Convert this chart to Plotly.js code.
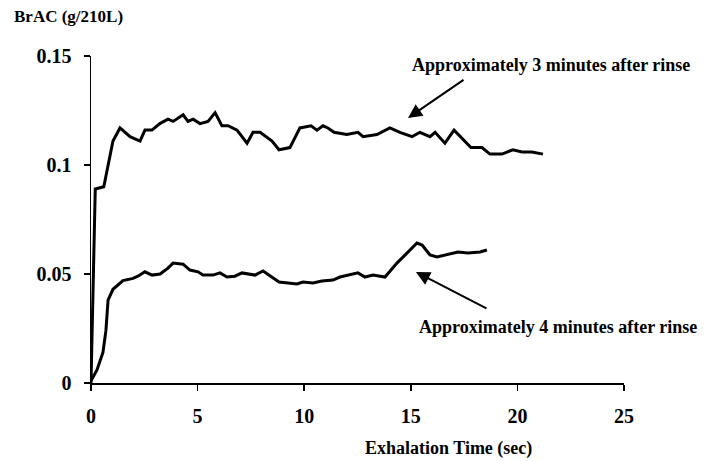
<!DOCTYPE html>
<html>
<head>
<meta charset="utf-8">
<script src="https://cdn.plot.ly/plotly-3.0.1.min.js"></script>
<style>html,body{margin:0;padding:0;background:#fff;}#chart{width:708px;height:461px;}</style>
</head>
<body>
<div id="chart"></div>
<script>
// Approximately 3 minutes after rinse
var time3 = [0, 0.2, 0.6, 0.89, 1.03, 1.36, 1.83, 2.3, 2.53, 2.86, 3.23, 3.61, 3.85, 4.32, 4.55, 4.79, 5.11, 5.49, 5.82, 6.14, 6.43, 6.85, 7.32, 7.6, 7.93, 8.49, 8.82, 9.33, 9.8, 10.32, 10.6, 10.88, 11.11, 11.4, 12.0, 12.52, 12.76, 13.41, 14.02, 14.49, 15.06, 15.43, 15.9, 16.14, 16.6, 17.03, 17.45, 17.82, 18.34, 18.71, 19.28, 19.79, 20.22, 20.68, 21.2];
var brac3 = [0, 0.089, 0.090, 0.105, 0.111, 0.117, 0.113, 0.111, 0.116, 0.116, 0.119, 0.121, 0.120, 0.123, 0.120, 0.121, 0.119, 0.120, 0.124, 0.118, 0.118, 0.116, 0.110, 0.115, 0.115, 0.111, 0.107, 0.108, 0.117, 0.118, 0.116, 0.118, 0.117, 0.115, 0.114, 0.115, 0.113, 0.114, 0.117, 0.115, 0.113, 0.115, 0.113, 0.115, 0.110, 0.116, 0.112, 0.108, 0.108, 0.105, 0.105, 0.107, 0.106, 0.106, 0.105];
// Approximately 4 minutes after rinse
var time4 = [0, 0.28, 0.56, 0.7, 0.8, 1.03, 1.5, 1.97, 2.2, 2.53, 2.86, 3.24, 3.61, 3.85, 4.32, 4.64, 5.02, 5.25, 5.72, 6.05, 6.38, 6.75, 7.08, 7.69, 8.07, 8.49, 8.82, 9.24, 9.66, 9.94, 10.41, 10.83, 11.35, 11.68, 12.15, 12.52, 12.85, 13.23, 13.79, 14.35, 14.82, 15.29, 15.53, 15.9, 16.23, 16.6, 17.21, 17.68, 18.25, 18.57];
var brac4 = [0.001, 0.006, 0.014, 0.024, 0.038, 0.043, 0.047, 0.048, 0.049, 0.051, 0.0495, 0.050, 0.0527, 0.055, 0.0545, 0.0518, 0.051, 0.0495, 0.0495, 0.0505, 0.0486, 0.049, 0.0505, 0.0495, 0.0514, 0.0486, 0.0463, 0.0459, 0.0454, 0.0463, 0.0459, 0.0468, 0.0472, 0.0486, 0.0495, 0.0505, 0.0486, 0.0495, 0.0486, 0.055, 0.0596, 0.0642, 0.0633, 0.0587, 0.0578, 0.0587, 0.0601, 0.0596, 0.0601, 0.061];

var xTicks = [0, 5, 10, 15, 20, 25];
var yTicks = [0, 0.05, 0.1, 0.15];
var yTickLabels = ['0', '0.05', '0.1', '0.15'];

var serif = 'Liberation Serif, Times New Roman, serif';
var lineStyle = {color: '#000', width: 3};

var traces = [
  {x: time3, y: brac3, mode: 'lines', line: lineStyle, name: '3 min', cliponaxis: false},
  {x: time4, y: brac4, mode: 'lines', line: lineStyle, name: '4 min', cliponaxis: false}
];

var axisCommon = {
  showline: true, linecolor: '#000', linewidth: 1.5,
  ticks: 'outside', ticklen: 6, tickwidth: 1.5, tickcolor: '#000',
  showgrid: false, zeroline: false,
  tickfont: {family: serif, size: 20, color: '#000', weight: 'bold'}
};

var layout = {
  width: 708, height: 461,
  margin: {l: 91, r: 84, t: 56, b: 78},
  paper_bgcolor: '#fff', plot_bgcolor: '#fff',
  showlegend: false,
  font: {family: serif, color: '#000'},
  xaxis: Object.assign({}, axisCommon, {range: [0, 25], tickvals: xTicks, ticktext: xTicks.map(String), ticklabelstandoff: 8}),
  yaxis: Object.assign({}, axisCommon, {range: [0, 0.15], tickvals: yTicks, ticktext: yTickLabels, ticklabelstandoff: 8}),
  annotations: [
    {xref: 'paper', yref: 'paper', x: -0.149, y: 1.12, xanchor: 'left', yanchor: 'middle', showarrow: false,
     text: '<b>BrAC (g/210L)</b>', font: {family: serif, size: 17, color: '#000'}},
    {xref: 'paper', yref: 'paper', x: (448 - 91) / 533, y: (383 - 448) / 327, xanchor: 'center', yanchor: 'middle', showarrow: false,
     text: '<b>Exhalation Time (sec)</b>', font: {family: serif, size: 18, color: '#000'}},
    {xref: 'x', yref: 'y', x: 14.96, y: 0.1459, xanchor: 'left', yanchor: 'middle', showarrow: false,
     text: '<b>Approximately 3 minutes after rinse</b>', font: {family: serif, size: 18, color: '#000'}},
    {xref: 'x', yref: 'y', x: 15.29, y: 0.0257, xanchor: 'left', yanchor: 'middle', showarrow: false,
     text: '<b>Approximately 4 minutes after rinse</b>', font: {family: serif, size: 18, color: '#000'}},
    {xref: 'x', yref: 'y', x: 14.87, y: 0.1216, ax: 57, ay: -39, text: '', showarrow: true,
     arrowhead: 2, arrowsize: 1.4, arrowwidth: 2, arrowcolor: '#000', standoff: 0},
    {xref: 'x', yref: 'y', x: 15.24, y: 0.0509, ax: 72, ay: 37, text: '', showarrow: true,
     arrowhead: 2, arrowsize: 1.4, arrowwidth: 2, arrowcolor: '#000', standoff: 0}
  ]
};

Plotly.newPlot('chart', traces, layout, {displayModeBar: false, staticPlot: true});
</script>
</body>
</html>
